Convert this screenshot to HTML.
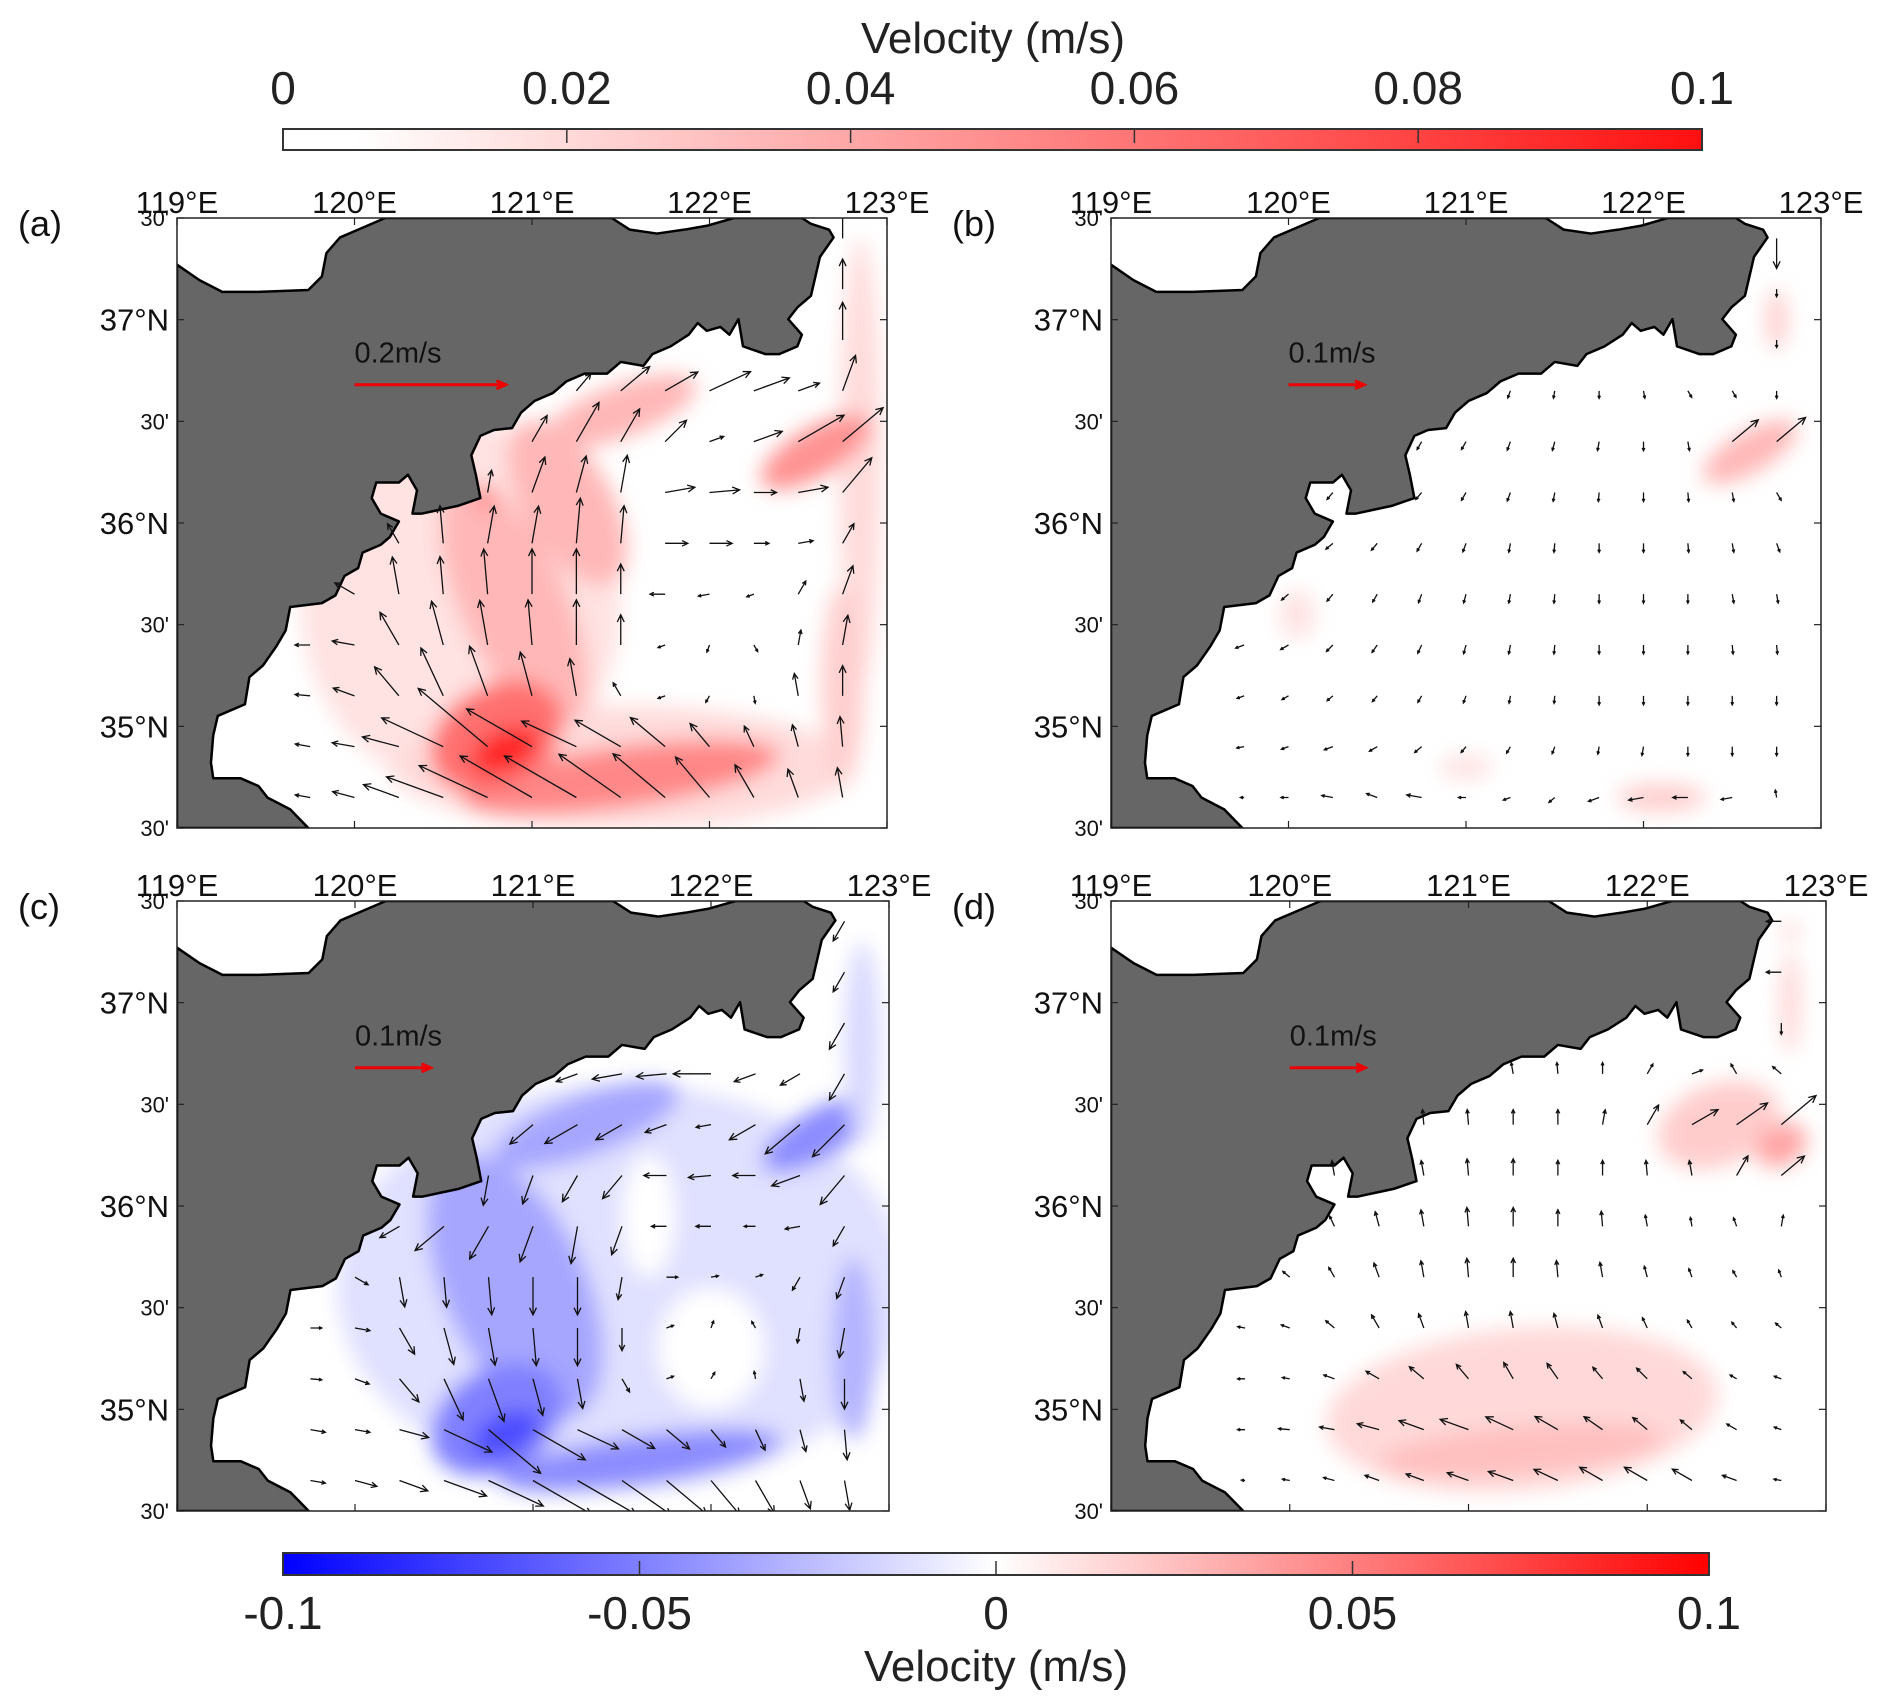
<!DOCTYPE html>
<html><head><meta charset="utf-8"><style>
html,body{margin:0;padding:0;background:#fff;}
svg{display:block;font-family:"Liberation Sans",sans-serif;}
</style></head><body>
<svg id="fig" width="1892" height="1706" viewBox="0 0 1892 1706" xmlns="http://www.w3.org/2000/svg">
<defs>
<linearGradient id="gRed" x1="0" x2="1" y1="0" y2="0">
<stop offset="0" stop-color="#ffffff"/><stop offset="0.05" stop-color="#ffffff"/><stop offset="1" stop-color="#ff1010"/>
</linearGradient>
<linearGradient id="gDiv" x1="0" x2="1" y1="0" y2="0">
<stop offset="0" stop-color="#0000ff"/><stop offset="0.48" stop-color="#f4f4ff"/><stop offset="0.5" stop-color="#ffffff"/><stop offset="0.52" stop-color="#fff4f4"/><stop offset="1" stop-color="#ff0000"/>
</linearGradient>
<filter id="blur" x="-50%" y="-50%" width="200%" height="200%"><feGaussianBlur stdDeviation="10"/></filter>
</defs>
<g>
<text x="993" y="53" font-size="44" text-anchor="middle" fill="#222">Velocity (m/s)</text>
<rect x="283" y="129" width="1419" height="21" fill="url(#gRed)" stroke="#333" stroke-width="2"/>
<g id="topTicks"></g>
</g>
<g>
<rect x="283" y="1553" width="1426" height="22" fill="url(#gDiv)" stroke="#333" stroke-width="2"/>
<g id="botTicks"></g>
<text x="996" y="1681" font-size="44" text-anchor="middle" fill="#222">Velocity (m/s)</text>
</g>
<g id="panels"></g>
</svg>
<script>
const NS="http://www.w3.org/2000/svg";
const topTickVals=[0,0.02,0.04,0.06,0.08,0.1];
const topTickLabels=["0","0.02","0.04","0.06","0.08","0.1"];
const botTickVals=[-0.1,-0.05,0,0.05,0.1];
const botTickLabels=["-0.1","-0.05","0","0.05","0.1"];
const lonTicks=[119,120,121,122,123];
const lonLabels=["119°E","120°E","121°E","122°E","123°E"];
const latTicks=[37.5,37,36.5,36,35.5,35,34.5];
const latLabels=["30'","37°N","30'","36°N","30'","35°N","30'"];
const gridLons=[119.75,120.0,120.25,120.5,120.75,121.0,121.25,121.5,121.75,122.0,122.25,122.5,122.75];
const gridLats=[34.65,34.9,35.15,35.4,35.65,35.9,36.15,36.4,36.65,36.9,37.15,37.4];
const angA=[[170,165,160,160,155,150,150,145,140,130,120,110,100],[170,170,165,155,140,150,155,150,140,130,115,105,95],[175,160,130,115,110,105,100,120,200,240,280,100,90],[180,170,120,105,100,95,90,90,200,250,300,80,80],[180,150,100,95,95,90,90,90,180,190,200,60,70],[0,0,120,95,80,80,85,85,0,0,0,10,60],[0,0,0,0,80,70,75,80,10,5,0,10,50],[0,0,0,0,0,60,60,60,45,20,20,30,40],[0,0,0,0,0,0,50,40,30,25,20,20,70],[90,90,90,90,90,90,90,90,90,90,90,90,90],[90,90,90,90,90,90,90,90,90,90,90,90,90],[90,90,90,90,90,90,90,90,90,90,90,90,90]];
const magA=[[.02,.03,.05,.08,.10,.11,.11,.10,.09,.07,.05,.04,.04],[.02,.03,.05,.09,.12,.10,.08,.07,.06,.04,.03,.03,.04],[.02,.03,.05,.07,.07,.06,.05,.02,.01,.01,.01,.03,.04],[.02,.03,.05,.06,.06,.06,.06,.04,.01,.01,.01,.02,.04],[.01,.03,.05,.05,.06,.06,.06,.04,.02,.015,.01,.02,.04],[.01,.01,.03,.05,.05,.05,.06,.05,.03,.03,.02,.02,.03],[0,0,0,0,.03,.05,.05,.05,.04,.04,.03,.04,.06],[0,0,0,0,0,.04,.06,.05,.04,.02,.04,.07,.07],[0,0,0,0,0,0,.03,.05,.05,.06,.05,.03,.05],[0,0,0,0,0,0,0,0,0,.03,.03,.03,.05],[0,0,0,0,0,0,0,0,0,0,0,0,.04],[0,0,0,0,0,0,0,0,0,0,0,0,.04]];
const angB=[[180,180,170,160,170,180,200,220,200,190,180,190,100],[190,200,200,210,220,230,240,250,260,260,270,270,270],[200,210,220,230,240,250,260,265,270,270,270,270,270],[200,210,225,235,245,255,260,265,270,270,270,275,275],[210,220,230,240,250,255,260,265,270,270,270,280,280],[200,210,220,230,240,250,260,265,270,270,275,280,290],[230,230,230,230,230,240,250,260,265,270,275,280,300],[240,240,240,240,240,240,250,255,260,270,280,40,40],[250,250,250,250,250,250,250,260,270,280,300,300,270],[270,270,270,270,270,270,270,270,270,270,270,270,270],[270,270,270,270,270,270,270,270,270,270,270,270,270],[270,270,270,270,270,270,270,270,270,270,270,270,270]];
const magB=[[.005,.01,.015,.015,.02,.01,.01,.01,.015,.02,.02,.015,.01],[.01,.01,.012,.012,.012,.01,.01,.01,.01,.012,.012,.012,.012],[.01,.01,.01,.01,.01,.01,.01,.01,.012,.012,.012,.012,.012],[.012,.012,.012,.012,.012,.012,.012,.012,.012,.012,.012,.012,.012],[.012,.012,.012,.012,.012,.012,.012,.012,.012,.012,.012,.012,.012],[.012,.012,.012,.012,.012,.012,.012,.012,.012,.012,.012,.012,.012],[.012,.012,.012,.012,.012,.012,.012,.012,.012,.012,.012,.012,.012],[.012,.012,.012,.012,.012,.012,.012,.012,.012,.012,.012,.045,.05],[.01,.01,.01,.01,.01,.01,.01,.01,.01,.01,.01,.01,.01],[.01,.01,.01,.01,.01,.01,.01,.01,.01,.01,.01,.01,.01],[.01,.01,.01,.01,.01,.01,.01,.01,.01,.01,.01,.01,.01],[.04,.04,.04,.04,.04,.04,.04,.04,.04,.04,.04,.04,.04]];
const angC=[[-10,-15,-20,-20,-25,-30,-30,-35,-40,-50,-60,-70,-80],[-10,-10,-15,-25,-40,-30,-25,-30,-40,-50,-65,-75,-85],[-5,-20,-50,-65,-70,-75,-80,-60,20,60,100,-80,-90],[0,-10,-60,-75,-80,-85,-90,-90,20,70,120,-100,-100],[0,-30,-80,-85,-85,-90,-90,-100,0,10,20,-120,-110],[180,180,-150,-140,-120,-110,-100,-110,180,180,180,-170,-120],[180,180,180,180,-100,-110,-120,-130,180,185,180,-160,-130],[180,180,180,180,180,-140,-150,-150,-160,-170,-150,-140,-135],[180,180,180,180,180,180,-160,-170,-175,180,-160,-150,-120],[-120,-120,-120,-120,-120,-120,-120,-120,-120,-120,-120,-120,-120],[-120,-120,-120,-120,-120,-120,-120,-120,-120,-120,-120,-120,-120],[-120,-120,-120,-120,-120,-120,-120,-120,-120,-120,-120,-120,-120]];
const magC=[[.02,.03,.04,.06,.08,.09,.09,.08,.07,.06,.05,.04,.04],[.02,.02,.04,.07,.09,.08,.06,.05,.04,.03,.03,.03,.04],[.015,.02,.04,.06,.06,.05,.04,.02,.01,.01,.01,.03,.04],[.015,.02,.04,.05,.05,.05,.05,.03,.01,.01,.01,.02,.04],[.01,.02,.04,.04,.05,.05,.05,.03,.015,.01,.01,.02,.03],[.01,.01,.03,.05,.05,.05,.05,.04,.02,.02,.015,.02,.03],[0,0,0,0,.04,.04,.04,.04,.03,.03,.03,.04,.05],[0,0,0,0,0,.04,.05,.04,.03,.02,.04,.06,.06],[0,0,0,0,0,0,.03,.04,.04,.05,.03,.03,.04],[0,0,0,0,0,0,0,0,0,0,0,0,.04],[0,0,0,0,0,0,0,0,0,0,0,0,.03],[0,0,0,0,0,0,0,0,0,0,0,0,.03]];
const angD=[[175,170,165,160,160,160,160,155,150,150,150,160,170],[180,175,170,165,160,160,155,150,145,140,140,150,160],[180,170,160,150,140,130,120,125,130,135,140,150,160],[170,160,140,120,110,100,100,105,110,115,120,130,140],[160,140,120,110,100,95,90,95,100,105,110,120,110],[150,130,115,105,100,95,90,90,95,100,100,110,80],[100,100,100,100,100,95,90,90,90,95,100,60,40],[95,95,95,95,95,95,90,90,80,60,30,35,40],[100,100,100,100,100,100,100,95,90,60,20,120,140],[-90,-90,-90,-90,-90,-90,-90,-90,-90,-90,-90,-90,-90],[180,180,180,180,180,180,180,180,180,180,180,180,180],[180,180,180,180,180,180,180,180,180,180,180,180,180]];
const magD=[[.005,.01,.015,.02,.025,.03,.035,.035,.035,.035,.03,.02,.01],[.01,.015,.02,.03,.035,.04,.04,.035,.03,.025,.02,.015,.01],[.01,.01,.015,.02,.025,.025,.025,.025,.02,.02,.015,.01,.01],[.01,.012,.015,.02,.02,.022,.022,.02,.018,.015,.012,.01,.01],[.01,.012,.015,.02,.022,.025,.025,.022,.02,.015,.012,.01,.01],[.012,.012,.015,.02,.022,.025,.025,.022,.02,.015,.012,.012,.015],[.02,.02,.02,.02,.02,.022,.022,.02,.02,.02,.02,.03,.04],[.02,.02,.02,.02,.02,.02,.02,.02,.02,.03,.04,.05,.06],[.015,.015,.015,.015,.015,.015,.015,.015,.015,.015,.015,.015,.015],[.015,.015,.015,.015,.015,.015,.015,.015,.015,.015,.015,.015,.015],[.02,.02,.02,.02,.02,.02,.02,.02,.02,.02,.02,.02,.02],[.02,.02,.02,.02,.02,.02,.02,.02,.02,.02,.02,.02,.02]];
const blobsA=[[120.6,35.6,0.9,0.9,0,0.012],[122.85,36.3,0.12,1.1,0,0.015],[121.5,34.8,1.3,0.3,0,0.015],[122.75,35.2,0.12,0.5,0,0.02],[120.9,35.6,0.3,0.65,-25,0.03],[121.2,36.1,0.25,0.45,-30,0.03],[121.5,36.55,0.45,0.13,-20,0.03],[121.5,34.75,0.9,0.15,-8,0.05],[120.8,34.95,0.4,0.25,-30,0.06],[122.6,36.35,0.35,0.12,-30,0.045],[120.75,36.12,0.05,0.07,0,0.05],[120.85,34.88,0.2,0.1,-25,0.09]];
const blobsB=[[122.6,36.35,0.3,0.1,-30,0.03],[122.75,37.0,0.06,0.15,0,0.02],[120.05,35.55,0.1,0.12,0,0.012],[121.0,34.8,0.15,0.06,0,0.012],[122.1,34.65,0.25,0.07,0,0.02]];
const blobsC=[[121.5,35.6,1.6,1.0,0,-0.012],[122.0,35.3,0.3,0.3,0,0],[121.65,35.95,0.15,0.3,0,0],[120.9,35.6,0.4,0.7,-25,-0.035],[121.3,36.4,0.55,0.15,-20,-0.035],[121.6,34.75,0.8,0.12,-8,-0.045],[120.8,34.95,0.4,0.25,-30,-0.05],[122.6,36.35,0.35,0.12,-30,-0.045],[122.8,35.3,0.12,0.45,0,-0.03],[122.85,36.8,0.1,0.5,0,-0.015],[120.85,34.88,0.2,0.1,-25,-0.07]];
const blobsD=[[121.3,35.0,1.1,0.4,-5,0.015],[121.3,34.8,0.8,0.12,-5,0.025],[122.4,36.4,0.35,0.2,-20,0.02],[122.75,36.3,0.15,0.1,-30,0.035],[122.8,37.0,0.06,0.25,0,0.015],[122.8,37.35,0.05,0.05,0,0.015]];
const coast=[[0,1568],[290,1568],[250,1520],[200,1490],[180,1460],[140,1440],[80,1440],[75,1400],[80,1330],[90,1280],[150,1250],[160,1180],[190,1150],[220,1100],[240,1060],[250,1000],[320,990],[350,970],[370,920],[400,900],[410,860],[450,840],[470,820],[490,780],[450,760],[430,720],[440,680],[490,680],[510,660],[530,700],[520,760],[540,760],[580,750],[620,740],[670,720],[660,660],[650,610],[670,560],[700,545],[740,540],[760,500],[790,470],[830,450],[860,420],[900,400],[950,400],[980,370],[1030,380],[1050,350],[1090,330],[1130,300],[1150,270],[1170,290],[1200,280],[1220,300],[1240,260],[1250,330],[1300,350],[1330,350],[1370,330],[1380,300],[1350,260],[1370,230],[1400,200],[1410,150],[1420,100],[1450,50],[1440,30],[1400,15],[1380,0],[1230,0],[1170,20],[1120,30],[1060,40],[1000,30],[960,0],[460,0],[420,20],[360,50],[330,90],[320,150],[290,185],[180,190],[100,190],[50,160],[0,120]];

const panels=[
 {id:"a",x:177,y:218,w:710,h:610,ang:angA,mag:magA,blobs:blobsA,ref:"0.2m/s",refv:0.2,cm:"red"},
 {id:"b",x:1111,y:218,w:710,h:610,ang:angB,mag:magB,blobs:blobsB,ref:"0.1m/s",refv:0.1,cm:"red"},
 {id:"c",x:177,y:901,w:712,h:610,ang:angC,mag:magC,blobs:blobsC,ref:"0.1m/s",refv:0.1,cm:"div"},
 {id:"d",x:1111,y:901,w:715,h:610,ang:angD,mag:magD,blobs:blobsD,ref:"0.1m/s",refv:0.1,cm:"div"}];
const SCALE=755;
function mk(tag,attrs,parent){const e=document.createElementNS(NS,tag);for(const k in attrs)e.setAttribute(k,attrs[k]);if(parent)parent.appendChild(e);return e;}
function redCol(v){const t=Math.max(0,Math.min(1,v/0.1));const c=Math.round(255*(1-t*0.94));return `rgb(255,${c},${c})`;}
function divCol(v){const t=Math.max(0,Math.min(1,Math.abs(v)/0.1));const c=Math.round(255*(1-t));return v<0?`rgb(${c},${c},255)`:`rgb(255,${c},${c})`;}
function inLand(zx,zy){let ins=false;for(let i=0,j=coast.length-1;i<coast.length;j=i++){const [xi,yi]=coast[i],[xj,yj]=coast[j];if(((yi>zy)!=(yj>zy))&&(zx<(xj-xi)*(zy-yi)/(yj-yi)+xi))ins=!ins;}return ins;}

const tt=document.getElementById("topTicks");
topTickVals.forEach((v,i)=>{const x=283+v/0.1*1419;
 if(i>0&&i<topTickVals.length-1){const l=mk("line",{x1:x,x2:x,y1:129,y2:143,stroke:"#333","stroke-width":1.5},tt);}
 const t=mk("text",{x:x,y:104,"font-size":46,"text-anchor":"middle",fill:"#222"},tt);t.textContent=topTickLabels[i];
 });
const bt=document.getElementById("botTicks");
botTickVals.forEach((v,i)=>{const x=283+(v+0.1)/0.2*1426;
 if(i>0&&i<botTickVals.length-1){const l=mk("line",{x1:x,x2:x,y1:1561,y2:1575,stroke:"#333","stroke-width":1.5},bt);}
 const t=mk("text",{x:x,y:1629,"font-size":46,"text-anchor":"middle",fill:"#222"},bt);t.textContent=botTickLabels[i];
 });

const root=document.getElementById("panels");
panels.forEach(p=>{
 const X=lon=>p.x+(lon-119)/4*p.w, Y=lat=>p.y+(37.5-lat)/3*p.h;
 const g=mk("g",{},root);
 const cp=mk("clipPath",{id:"clip"+p.id},g);mk("rect",{x:p.x,y:p.y,width:p.w,height:p.h},cp);
 const inner=mk("g",{"clip-path":`url(#clip${p.id})`},g);
 mk("rect",{x:p.x,y:p.y,width:p.w,height:p.h,fill:"#fff"},inner);
 const sh=mk("g",{filter:"url(#blur)"},inner);
 p.blobs.forEach(b=>{const cx=X(b[0]),cy=Y(b[1]);
  const e=mk("ellipse",{cx:cx,cy:cy,rx:b[2]/4*p.w,ry:b[3]/3*p.h,transform:`rotate(${b[4]} ${cx} ${cy})`,fill:p.cm=="red"?redCol(b[5]):divCol(b[5])},sh);
  });
 const pts=coast.map(c=>`${p.x+c[0]/1568*p.w},${p.y+c[1]/1568*p.h}`).join(" ");
 const land=mk("polygon",{points:pts,fill:"#666","stroke":"#000","stroke-width":2.5,"stroke-linejoin":"round"},inner);
 
 const ag=mk("g",{stroke:"#111","stroke-width":1.3,fill:"none"},inner);
 gridLats.forEach((lat,r)=>gridLons.forEach((lon,c)=>{
  const m=p.mag[r][c];if(!m)return;
  if(lat>36.75&&lon<122.6)return;
  const zx=(lon-119)*392,zy=(37.5-lat)*522.7;if(inLand(zx,zy))return;
  const a=p.ang[r][c]*Math.PI/180,L=m*SCALE;
  const x0=X(lon),y0=Y(lat),x1=x0+L*Math.cos(a),y1=y0-L*Math.sin(a);
  const hs=Math.max(3,Math.min(8,L*0.28));
  const h1x=x1-hs*Math.cos(a-0.45),h1y=y1+hs*Math.sin(a-0.45),h2x=x1-hs*Math.cos(a+0.45),h2y=y1+hs*Math.sin(a+0.45);
  const pa=mk("path",{d:`M${x0},${y0}L${x1},${y1}M${h1x},${h1y}L${x1},${y1}L${h2x},${h2y}`},ag);
  }));
 const fr=mk("rect",{x:p.x,y:p.y,width:p.w,height:p.h,fill:"none",stroke:"#222","stroke-width":1.5},g);
 
 lonTicks.forEach((lon,i)=>{const x=X(lon);
  mk("line",{x1:x,x2:x,y1:p.y,y2:p.y+7,stroke:"#222","stroke-width":1.2},g);mk("line",{x1:x,x2:x,y1:p.y+p.h,y2:p.y+p.h-7,stroke:"#222","stroke-width":1.2},g);
  const t=mk("text",{x:x,y:p.y-5,"font-size":31,"text-anchor":"middle",fill:"#111"},g);t.textContent=lonLabels[i];
  });
 latTicks.forEach((lat,i)=>{const y=Y(lat);
  mk("line",{x1:p.x,x2:p.x+7,y1:y,y2:y,stroke:"#222","stroke-width":1.2},g);mk("line",{x1:p.x+p.w,x2:p.x+p.w-7,y1:y,y2:y,stroke:"#222","stroke-width":1.2},g);
  const min=latLabels[i]=="30'";
  const t=mk("text",{x:p.x-8,y:y+(min?8:11),"font-size":min?22:31,"text-anchor":"end",fill:"#111"},g);t.textContent=latLabels[i];
  });
 const pl=mk("text",{x:p.x-159,y:p.y+18,"font-size":36,fill:"#111"},g);pl.textContent="("+p.id+")";
 
 const rx=X(120),ry=Y(36.68),rl=p.refv*SCALE;
 const rt=mk("text",{x:rx,y:ry-22,"font-size":29,fill:"#111"},g);rt.textContent=p.ref;
 
 const ra=mk("path",{d:`M${rx},${ry}L${rx+rl},${ry}M${rx+rl-9},${ry-4}L${rx+rl},${ry}L${rx+rl-9},${ry+4}`,stroke:"#e00",fill:"none","stroke-width":3},g);
 
});
</script>
</body></html>
